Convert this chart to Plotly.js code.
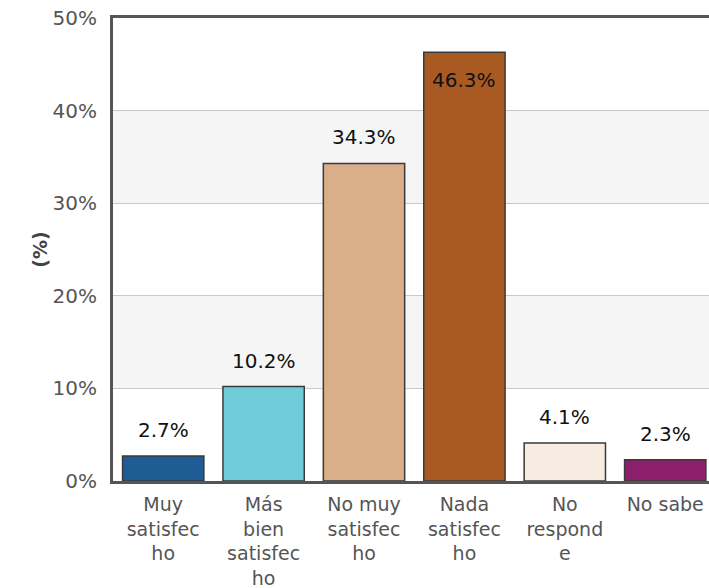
<!DOCTYPE html>
<html>
<head>
<meta charset="utf-8">
<script src="https://cdn.plot.ly/plotly-3.0.1.min.js"></script>
<style>html,body{margin:0;padding:0;background:#fff;}#chart{width:709px;height:588px;}</style>
</head>
<body>
<div id="chart"></div>
<script>
const categories = ["Muy<br>satisfec<br>ho", "Más<br>bien<br>satisfec<br>ho", "No muy<br>satisfec<br>ho", "Nada<br>satisfec<br>ho", "No<br>respond<br>e", "No sabe"];
const values = [2.7, 10.2, 34.3, 46.3, 4.1, 2.3];
const barColors = ["#1f5c94", "#70cbd9", "#d9ae88", "#a95a23", "#f6ece2", "#8b1f6b"];
const labelInside = [false, false, false, true, false, false];
const yTicks = [0, 10, 20, 30, 40, 50];
const shadedBands = [[10, 20], [30, 40]];

const FONT = "DejaVu Sans";

const trace = {
  type: "bar",
  x: categories,
  y: values,
  marker: {color: barColors, line: {color: "#3a3a3a", width: 1.5}},
  hoverinfo: "none"
};

const annotations = values.map((v, i) => ({
  x: categories[i], y: v, xref: "x", yref: "y",
  text: v.toFixed(1) + "%",
  showarrow: false,
  yanchor: labelInside[i] ? "top" : "bottom",
  yshift: labelInside[i] ? -14 : 12,
  font: {family: FONT, size: 20, color: "#111"}
}));

const layout = {
  width: 709, height: 588,
  margin: {l: 113, r: 0, t: 18, b: 107},
  paper_bgcolor: "#fff", plot_bgcolor: "#fff",
  bargap: 0.19,
  showlegend: false,
  font: {family: FONT, color: "#555"},
  xaxis: {
    range: [-0.5, 5.436],
    showline: true, linecolor: "#555", linewidth: 3, mirror: true,
    showgrid: false, ticks: "",
    ticklabelstandoff: 4,
    tickfont: {family: FONT, size: 19, color: "#555"},
    fixedrange: true
  },
  yaxis: {
    range: [0, 50],
    tickvals: yTicks,
    ticktext: yTicks.map(t => t + "%"),
    showline: true, linecolor: "#555", linewidth: 3,
    showgrid: true, gridcolor: "#c8c8c8", gridwidth: 1,
    zeroline: false, ticks: "",
    ticklabelstandoff: 9,
    tickfont: {family: FONT, size: 20, color: "#555"},
    title: {text: "<b>(%)</b>", font: {family: FONT, size: 19, color: "#444"}, standoff: 0},
    fixedrange: true
  },
  annotations: annotations,
  shapes: shadedBands.map(b => ({
    type: "rect", xref: "paper", yref: "y", x0: 0, x1: 1, y0: b[0], y1: b[1],
    fillcolor: "#f5f5f5", line: {width: 0}, layer: "below"
  }))
};

Plotly.newPlot("chart", [trace], layout, {staticPlot: true, displayModeBar: false});
</script>
</body>
</html>
